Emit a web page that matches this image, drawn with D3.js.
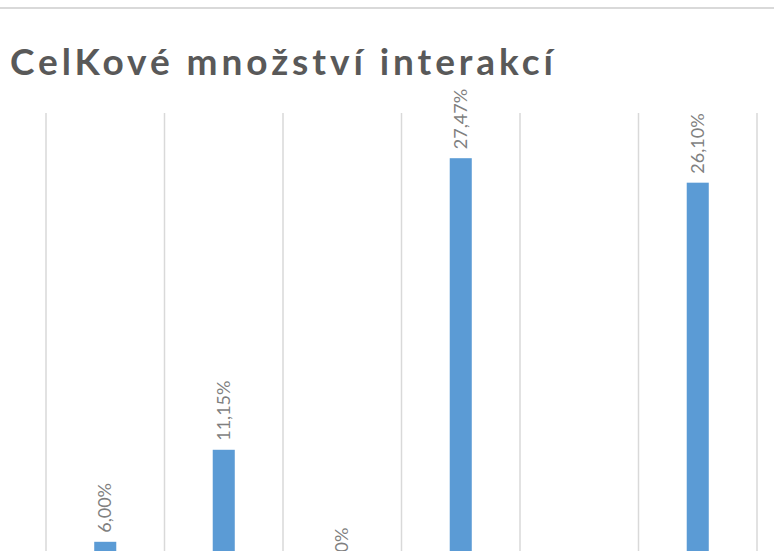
<!DOCTYPE html>
<html>
<head>
<meta charset="utf-8">
<script src="https://cdn.jsdelivr.net/npm/d3@7"></script>
<style>
  html, body { margin: 0; padding: 0; background: #fff; overflow: hidden; }
  svg { display: block; }
</style>
</head>
<body>
<svg id="chart" width="774" height="551"></svg>
<script>
// chart data (bottom of the original chart is cropped, category names not visible)
const categories = ["K1", "K2", "K3", "K4", "K5", "K6"];
const values = [6.0, 11.15, 3.5, 27.47, 1.5, 26.1];
const labels = ["6,00%", "11,15%", "3,50%", "27,47%", "1,50%", "26,10%"];
const yMax = 30;

const title = "CelKové množství interakcí";

const svg = d3.select("#chart");
const W = +svg.attr("width");

const margin = { top: 113, left: 46, right: 17 };
const baseline = 649; // plot bottom lies below the visible area

// top frame line
svg.append("line")
  .attr("x1", 0).attr("x2", W)
  .attr("y1", 8).attr("y2", 8)
  .attr("stroke", "#d9d9d9")
  .attr("stroke-width", 2);

// title
const t = svg.append("text")
  .attr("x", 10)
  .attr("y", 75)
  .style("font-family", "Lato, 'Open Sans', sans-serif")
  .style("font-weight", "bold")
  .style("font-size", "37px")
  .style("fill", "#595959")
  .text(title);
// spread letters to reach the width seen in the reference
const natural = t.node().getComputedTextLength();
const target = 543;
t.style("letter-spacing", ((target - natural) / (title.length - 1)) + "px");

const x = d3.scaleBand()
  .domain(categories)
  .range([margin.left, W - margin.right])
  .paddingInner(0.814)
  .paddingOuter(0.407);

const y = d3.scaleLinear()
  .domain([0, yMax])
  .range([baseline, margin.top]);

// vertical gridlines at category boundaries
const step = x.step();
const gridX = d3.range(categories.length + 1).map((i) => margin.left + i * step);
svg.append("g")
  .selectAll("line")
  .data(gridX)
  .join("line")
  .attr("x1", (d) => d).attr("x2", (d) => d)
  .attr("y1", y(yMax)).attr("y2", baseline)
  .attr("stroke", "#d9d9d9")
  .attr("stroke-width", 1.5);

const data = categories.map((c, i) => ({ cat: c, v: values[i], label: labels[i] }));

// bars
svg.append("g")
  .selectAll("rect")
  .data(data)
  .join("rect")
  .attr("x", (d) => x(d.cat))
  .attr("y", (d) => y(d.v))
  .attr("width", x.bandwidth())
  .attr("height", (d) => baseline - y(d.v))
  .attr("fill", "#5b9bd5");

// rotated data labels
svg.append("g")
  .selectAll("text")
  .data(data)
  .join("text")
  .attr("transform", (d) =>
    `translate(${x(d.cat) + x.bandwidth() / 2 + 6},${y(d.v) - 9}) rotate(-90)`)
  .attr("text-anchor", "start")
  .style("font-family", "Lato, 'Open Sans', sans-serif")
  .style("font-size", "18px")
  .style("fill", "#7f7f7f")
  .text((d) => d.label);

// category labels (below the cropped area)
svg.append("g")
  .selectAll("text")
  .data(categories)
  .join("text")
  .attr("x", (d) => x(d) + x.bandwidth() / 2)
  .attr("y", baseline + 20)
  .attr("text-anchor", "middle")
  .style("font-family", "Lato, sans-serif")
  .style("font-size", "14px")
  .style("fill", "#595959")
  .text((d) => d);
</script>
</body>
</html>
